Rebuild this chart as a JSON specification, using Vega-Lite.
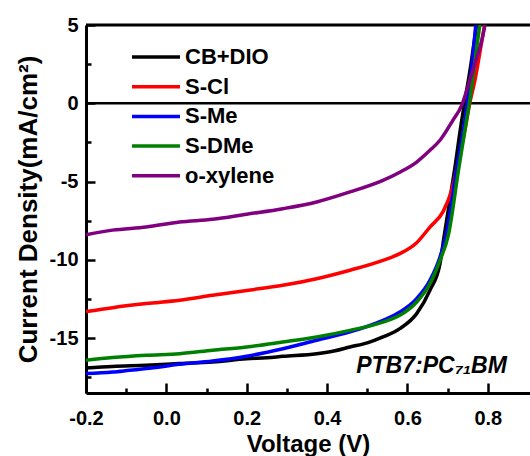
{
  "$schema": "https://vega.github.io/schema/vega-lite/v6.json",
  "width": 444,
  "height": 368,
  "autosize": {"type": "none"},
  "padding": {"left": 86, "top": 25, "right": 0, "bottom": 63},
  "background": "white",
  "config": {
    "view": {"stroke": null},
    "axis": {
      "grid": false,
      "labelFlush": false,
      "domainColor": "black",
      "domainWidth": 3,
      "tickColor": "black",
      "tickWidth": 2.5,
      "labelFont": "Liberation Sans",
      "labelFontSize": 20,
      "labelFontWeight": "bold",
      "labelColor": "black",
      "titleFont": "Liberation Sans",
      "titleFontWeight": "bold",
      "titleColor": "black"
    }
  },
  "datasets": {
    "one": [{"label": "PTB7:PC₇₁BM"}],
    "jv": [
      {"s": "CB+DIO", "v": -0.2, "j": -16.9}, {"s": "CB+DIO", "v": -0.134, "j": -16.8}, {"s": "CB+DIO", "v": -0.05, "j": -16.73}, {"s": "CB+DIO", "v": 0.033, "j": -16.62}, {"s": "CB+DIO", "v": 0.115, "j": -16.52}, {"s": "CB+DIO", "v": 0.2, "j": -16.32}, {"s": "CB+DIO", "v": 0.25, "j": -16.25}, {"s": "CB+DIO", "v": 0.29, "j": -16.16}, {"s": "CB+DIO", "v": 0.374, "j": -15.99}, {"s": "CB+DIO", "v": 0.42, "j": -15.8}, {"s": "CB+DIO", "v": 0.457, "j": -15.56}, {"s": "CB+DIO", "v": 0.5, "j": -15.3}, {"s": "CB+DIO", "v": 0.539, "j": -14.92}, {"s": "CB+DIO", "v": 0.581, "j": -14.39}, {"s": "CB+DIO", "v": 0.623, "j": -13.43}, {"s": "CB+DIO", "v": 0.656, "j": -11.94}, {"s": "CB+DIO", "v": 0.681, "j": -10.24}, {"s": "CB+DIO", "v": 0.69, "j": -8.7}, {"s": "CB+DIO", "v": 0.717, "j": -4.3}, {"s": "CB+DIO", "v": 0.735, "j": -1.1}, {"s": "CB+DIO", "v": 0.742, "j": 0}, {"s": "CB+DIO", "v": 0.758, "j": 2.5}, {"s": "CB+DIO", "v": 0.772, "j": 5.0},
      {"s": "S-Cl", "v": -0.2, "j": -13.3}, {"s": "S-Cl", "v": -0.134, "j": -13.05}, {"s": "S-Cl", "v": -0.05, "j": -12.79}, {"s": "S-Cl", "v": 0.033, "j": -12.58}, {"s": "S-Cl", "v": 0.115, "j": -12.26}, {"s": "S-Cl", "v": 0.2, "j": -11.95}, {"s": "S-Cl", "v": 0.29, "j": -11.62}, {"s": "S-Cl", "v": 0.374, "j": -11.2}, {"s": "S-Cl", "v": 0.457, "j": -10.66}, {"s": "S-Cl", "v": 0.539, "j": -10.03}, {"s": "S-Cl", "v": 0.581, "j": -9.6}, {"s": "S-Cl", "v": 0.623, "j": -8.9}, {"s": "S-Cl", "v": 0.656, "j": -7.9}, {"s": "S-Cl", "v": 0.689, "j": -6.9}, {"s": "S-Cl", "v": 0.71, "j": -5.55}, {"s": "S-Cl", "v": 0.726, "j": -3.8}, {"s": "S-Cl", "v": 0.743, "j": -1.72}, {"s": "S-Cl", "v": 0.755, "j": 0}, {"s": "S-Cl", "v": 0.768, "j": 1.47}, {"s": "S-Cl", "v": 0.78, "j": 3.2}, {"s": "S-Cl", "v": 0.792, "j": 5.0},
      {"s": "S-Me", "v": -0.2, "j": -17.26}, {"s": "S-Me", "v": -0.134, "j": -17.16}, {"s": "S-Me", "v": -0.092, "j": -17.05}, {"s": "S-Me", "v": -0.05, "j": -16.94}, {"s": "S-Me", "v": 0.033, "j": -16.67}, {"s": "S-Me", "v": 0.115, "j": -16.46}, {"s": "S-Me", "v": 0.2, "j": -16.15}, {"s": "S-Me", "v": 0.29, "j": -15.67}, {"s": "S-Me", "v": 0.374, "j": -15.13}, {"s": "S-Me", "v": 0.457, "j": -14.6}, {"s": "S-Me", "v": 0.539, "j": -13.86}, {"s": "S-Me", "v": 0.581, "j": -13.33}, {"s": "S-Me", "v": 0.623, "j": -12.47}, {"s": "S-Me", "v": 0.656, "j": -11.3}, {"s": "S-Me", "v": 0.681, "j": -9.81}, {"s": "S-Me", "v": 0.697, "j": -8.3}, {"s": "S-Me", "v": 0.722, "j": -4.28}, {"s": "S-Me", "v": 0.743, "j": -1.09}, {"s": "S-Me", "v": 0.749, "j": 0}, {"s": "S-Me", "v": 0.76, "j": 2.3}, {"s": "S-Me", "v": 0.77, "j": 5.0},
      {"s": "S-DMe", "v": -0.2, "j": -16.41}, {"s": "S-DMe", "v": -0.134, "j": -16.24}, {"s": "S-DMe", "v": -0.05, "j": -16.09}, {"s": "S-DMe", "v": 0.033, "j": -15.99}, {"s": "S-DMe", "v": 0.115, "j": -15.77}, {"s": "S-DMe", "v": 0.2, "j": -15.56}, {"s": "S-DMe", "v": 0.29, "j": -15.24}, {"s": "S-DMe", "v": 0.374, "j": -14.92}, {"s": "S-DMe", "v": 0.457, "j": -14.5}, {"s": "S-DMe", "v": 0.539, "j": -13.97}, {"s": "S-DMe", "v": 0.581, "j": -13.54}, {"s": "S-DMe", "v": 0.623, "j": -12.69}, {"s": "S-DMe", "v": 0.656, "j": -11.51}, {"s": "S-DMe", "v": 0.681, "j": -10.03}, {"s": "S-DMe", "v": 0.702, "j": -8.4}, {"s": "S-DMe", "v": 0.727, "j": -4.28}, {"s": "S-DMe", "v": 0.747, "j": -1.09}, {"s": "S-DMe", "v": 0.754, "j": 0}, {"s": "S-DMe", "v": 0.767, "j": 2.5}, {"s": "S-DMe", "v": 0.78, "j": 5.0},
      {"s": "o-xylene", "v": -0.2, "j": -8.4}, {"s": "o-xylene", "v": -0.134, "j": -8.1}, {"s": "o-xylene", "v": -0.05, "j": -7.9}, {"s": "o-xylene", "v": 0.033, "j": -7.58}, {"s": "o-xylene", "v": 0.115, "j": -7.41}, {"s": "o-xylene", "v": 0.2, "j": -7.08}, {"s": "o-xylene", "v": 0.29, "j": -6.73}, {"s": "o-xylene", "v": 0.374, "j": -6.3}, {"s": "o-xylene", "v": 0.457, "j": -5.66}, {"s": "o-xylene", "v": 0.539, "j": -4.92}, {"s": "o-xylene", "v": 0.581, "j": -4.4}, {"s": "o-xylene", "v": 0.623, "j": -3.75}, {"s": "o-xylene", "v": 0.656, "j": -3.0}, {"s": "o-xylene", "v": 0.681, "j": -2.36}, {"s": "o-xylene", "v": 0.713, "j": -1.09}, {"s": "o-xylene", "v": 0.735, "j": -0.13}, {"s": "o-xylene", "v": 0.75, "j": 1.04}, {"s": "o-xylene", "v": 0.768, "j": 2.55}, {"s": "o-xylene", "v": 0.785, "j": 4.02}, {"s": "o-xylene", "v": 0.793, "j": 5.0}
    ]
  },
  "layer": [
    {
      "data": {"name": "one"},
      "mark": {"type": "rule", "color": "black", "strokeWidth": 2.5},
      "encoding": {
        "y": {"datum": 0, "type": "quantitative", "scale": {"domain": [-18.5, 5], "nice": false, "zero": false}}
      }
    },
    {
      "data": {"name": "one"},
      "mark": {"type": "rule", "color": "black", "strokeWidth": 3},
      "encoding": {
        "y": {"datum": 5, "type": "quantitative"}
      }
    },
    {
      "data": {"name": "jv"},
      "mark": {"type": "line", "clip": true, "interpolate": "monotone"},
      "encoding": {
        "x": {"field": "v", "type": "quantitative", "scale": {"domain": [-0.2, 0.905], "nice": false, "zero": false},
              "axis": {"values": [-0.2, -0.1, 0, 0.1, 0.2, 0.3, 0.4, 0.5, 0.6, 0.7, 0.8],
                       "tickSize": {"condition": {"test": "abs(round(datum.value * 10)) % 2 == 1", "value": -5}, "value": -10},
                       "labelPadding": 25,
                       "labelExpr": "abs(round(datum.value * 10)) % 2 == 1 ? '' : (datum.value < 0 ? '-' + format(-datum.value, '.1f') : format(datum.value, '.1f'))",
                       "title": "Voltage (V)", "titleFontSize": 24, "titlePadding": 4}},
        "y": {"field": "j", "type": "quantitative",
              "axis": {"values": [5, 2.5, 0, -2.5, -5, -7.5, -10, -12.5, -15, -17.5],
                       "tickSize": {"condition": {"test": "abs(datum.value) % 5 != 0", "value": -5}, "value": -9},
                       "labelPadding": 17,
                       "labelExpr": "abs(datum.value) % 5 != 0 ? '' : (datum.value < 0 ? '-' + format(-datum.value, 'd') : format(datum.value, 'd'))",
                       "title": "Current Density(mA/cm²)", "titleFontSize": 26, "titlePadding": 8}},
        "color": {"field": "s", "type": "nominal",
                  "scale": {"domain": ["CB+DIO", "S-Cl", "S-Me", "S-DMe", "o-xylene"], "range": ["#000000", "#ff0000", "#0000ff", "#008000", "#800080"]},
                  "legend": {"orient": "none", "legendX": 44, "legendY": 21, "title": null, "symbolType": "stroke", "symbolSize": 2300, "symbolStrokeWidth": 4, "clipHeight": 22, "rowPadding": 7.7, "labelFont": "Liberation Sans", "labelFontSize": 22, "labelFontWeight": "bold", "labelColor": "black", "labelOffset": 3, "padding": 0, "labelLimit": 300}},
        "strokeWidth": {"field": "s", "type": "nominal",
                        "scale": {"domain": ["CB+DIO", "S-Cl", "S-Me", "S-DMe", "o-xylene"], "range": [3.5, 3.5, 4.5, 4, 5.5]}, "legend": null}
      }
    },
    {
      "data": {"name": "one"},
      "mark": {"type": "text", "font": "Liberation Sans", "fontSize": 23, "fontWeight": "bold", "fontStyle": "italic", "align": "center", "baseline": "alphabetic", "color": "black"},
      "encoding": {
        "x": {"datum": 0.66, "type": "quantitative"},
        "y": {"datum": -17.2, "type": "quantitative"},
        "text": {"field": "label"}
      }
    }
  ]
}
